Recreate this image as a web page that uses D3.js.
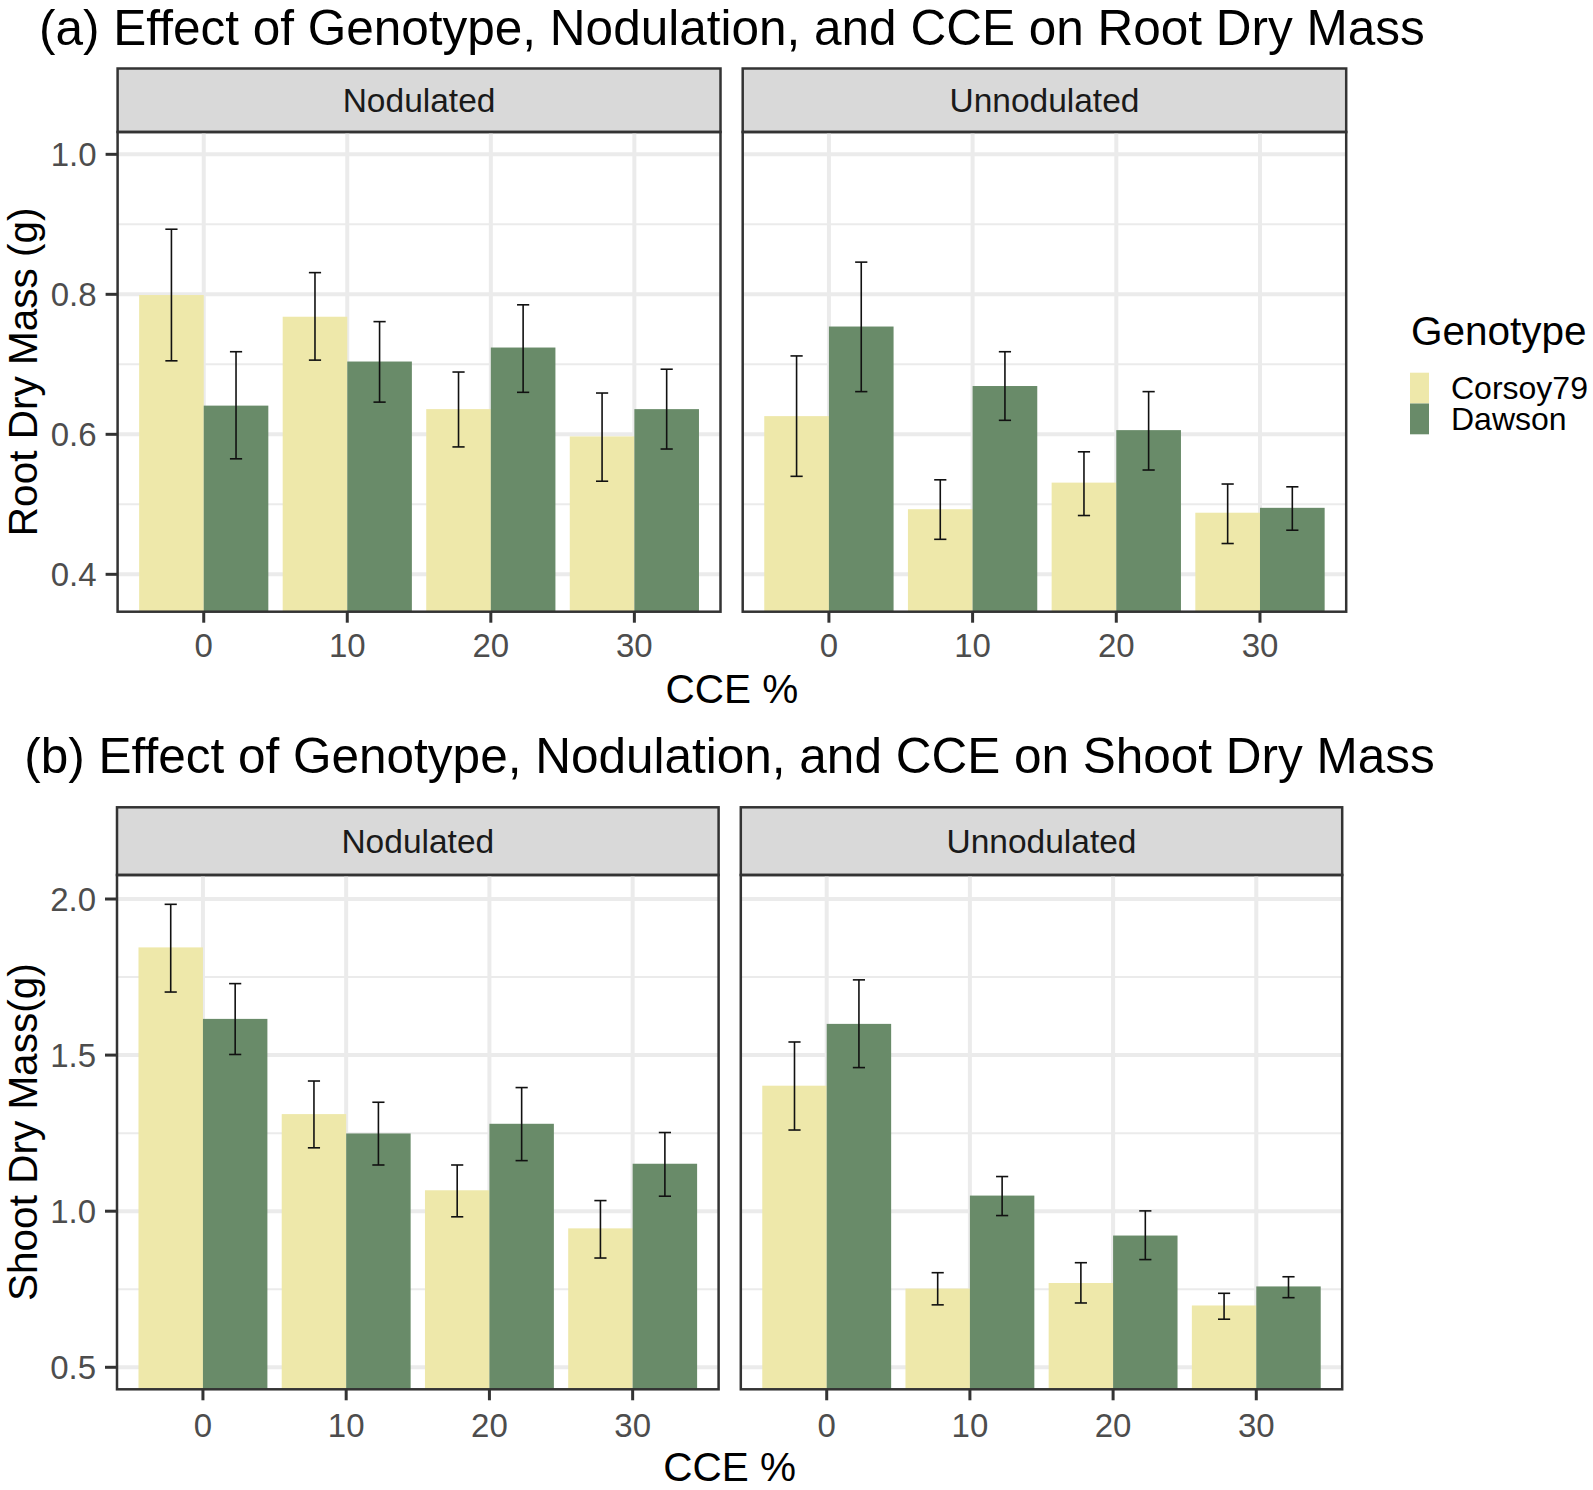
<!DOCTYPE html>
<html>
<head>
<meta charset="utf-8">
<script src="https://cdn.jsdelivr.net/npm/d3@7"></script>
<style>
  html, body { margin: 0; padding: 0; background: #fff; }
  svg { display: block; font-family: Arial, "Liberation Sans", sans-serif; }
</style>
</head>
<body>
<svg id="chart" width="1593" height="1490"></svg>
<script>
'use strict';
// categories
const cceLevels = ['0', '10', '20', '30'];
const genotypes = ['Corsoy79', 'Dawson'];
const nodulation = ['Nodulated', 'Unnodulated'];
const genoColors = ['#EEE8AA', '#698B69'];

// values ordered: nodulation -> CCE -> genotype (Corsoy79, Dawson)
const rootMean = [0.799, 0.641, 0.768, 0.704, 0.636, 0.724, 0.597, 0.636,
                  0.626, 0.754, 0.493, 0.669, 0.531, 0.606, 0.488, 0.495];
const rootLow  = [0.705, 0.565, 0.706, 0.646, 0.582, 0.660, 0.533, 0.579,
                  0.540, 0.661, 0.450, 0.620, 0.484, 0.549, 0.444, 0.463];
const rootHigh = [0.893, 0.718, 0.831, 0.761, 0.689, 0.785, 0.659, 0.693,
                  0.712, 0.846, 0.535, 0.718, 0.575, 0.661, 0.529, 0.525];

const shootMean = [1.845, 1.616, 1.311, 1.249, 1.067, 1.280, 0.945, 1.152,
                   1.402, 1.600, 0.752, 1.050, 0.770, 0.922, 0.698, 0.759];
const shootLow  = [1.702, 1.502, 1.203, 1.148, 0.982, 1.162, 0.850, 1.048,
                   1.260, 1.460, 0.700, 0.986, 0.706, 0.845, 0.654, 0.723];
const shootHigh = [1.983, 1.729, 1.417, 1.349, 1.148, 1.396, 1.034, 1.252,
                   1.542, 1.741, 0.803, 1.111, 0.835, 1.001, 0.737, 0.790];

const rootTicks = [0.4, 0.6, 0.8, 1.0];
const rootMinor = [0.5, 0.7, 0.9];
const shootTicks = [0.5, 1.0, 1.5, 2.0];
const shootMinor = [0.75, 1.25, 1.75];

const svg = d3.select('#chart');
svg.append('rect').attr('width', 1593).attr('height', 1490).attr('fill', '#fff');

function buildRows(mean, low, high) {
  let rows = [];
  let k = 0;
  nodulation.forEach(function(n) {
    cceLevels.forEach(function(c) {
      genotypes.forEach(function(g) {
        rows.push({ nod: n, cce: c, geno: g, mean: mean[k], low: low[k], high: high[k] });
        k++;
      });
    });
  });
  return rows;
}

function drawPlot(cfg) {
  let rows = buildRows(cfg.mean, cfg.low, cfg.high);
  let y = d3.scaleLinear().domain(cfg.yDomain).range([cfg.panelBottom, cfg.panelTop]);
  let g = svg.append('g');

  // title, centered over the panels
  let titleX = (cfg.panels[0][0] + cfg.panels[1][1]) / 2;
  g.append('text')
    .attr('x', titleX).attr('y', cfg.titleY)
    .attr('text-anchor', 'middle')
    .attr('font-size', 49.5).attr('fill', '#000')
    .text(cfg.title);

  cfg.panels.forEach(function(p, pi) {
    // ggplot discrete scale: centres at 1..4, expansion 0.6
    let xc = d3.scaleLinear().domain([0.4, 4.6]).range(p);
    let centre = function(c) { return xc(cceLevels.indexOf(c) + 1); };
    let unit = xc(1) - xc(0);
    let pg = g.append('g');

    // strip
    pg.append('rect')
      .attr('x', p[0]).attr('y', cfg.stripTop)
      .attr('width', p[1] - p[0]).attr('height', cfg.panelTop - cfg.stripTop)
      .attr('fill', '#D9D9D9').attr('stroke', '#333333').attr('stroke-width', 2.5);
    pg.append('text')
      .attr('x', (p[0] + p[1]) / 2).attr('y', (cfg.stripTop + cfg.panelTop) / 2 + 12)
      .attr('text-anchor', 'middle').attr('font-size', 33.5).attr('fill', '#1A1A1A')
      .text(nodulation[pi]);

    // grid
    pg.selectAll('.minor').data(cfg.minor).enter().append('line')
      .attr('x1', p[0]).attr('x2', p[1])
      .attr('y1', d => y(d)).attr('y2', d => y(d))
      .attr('stroke', '#EBEBEB').attr('stroke-width', 2);
    pg.selectAll('.major').data(cfg.ticks).enter().append('line')
      .attr('x1', p[0]).attr('x2', p[1])
      .attr('y1', d => y(d)).attr('y2', d => y(d))
      .attr('stroke', '#EBEBEB').attr('stroke-width', 4);
    pg.selectAll('.vmajor').data(cceLevels).enter().append('line')
      .attr('x1', d => centre(d)).attr('x2', d => centre(d))
      .attr('y1', cfg.panelTop).attr('y2', cfg.panelBottom)
      .attr('stroke', '#EBEBEB').attr('stroke-width', 4);

    // bars
    let sub = rows.filter(function(r) { return r.nod === nodulation[pi]; });
    let barW = 0.45 * unit;
    let barX = function(d) {
      return centre(d.cce) + (genotypes.indexOf(d.geno) === 0 ? -barW : 0);
    };
    pg.selectAll('.bar').data(sub).enter().append('rect')
      .attr('x', barX)
      .attr('y', d => y(d.mean))
      .attr('width', barW)
      .attr('height', d => cfg.panelBottom - y(d.mean))
      .attr('fill', d => genoColors[genotypes.indexOf(d.geno)]);

    // error bars
    let capW = 0.085 * unit;
    let eb = pg.selectAll('.err').data(sub).enter().append('g')
      .attr('stroke', '#111').attr('stroke-width', 1.6);
    eb.append('line')
      .attr('x1', d => barX(d) + barW / 2).attr('x2', d => barX(d) + barW / 2)
      .attr('y1', d => y(d.low)).attr('y2', d => y(d.high));
    eb.append('line')
      .attr('x1', d => barX(d) + barW / 2 - capW / 2).attr('x2', d => barX(d) + barW / 2 + capW / 2)
      .attr('y1', d => y(d.high)).attr('y2', d => y(d.high));
    eb.append('line')
      .attr('x1', d => barX(d) + barW / 2 - capW / 2).attr('x2', d => barX(d) + barW / 2 + capW / 2)
      .attr('y1', d => y(d.low)).attr('y2', d => y(d.low));

    // panel border
    pg.append('rect')
      .attr('x', p[0]).attr('y', cfg.panelTop)
      .attr('width', p[1] - p[0]).attr('height', cfg.panelBottom - cfg.panelTop)
      .attr('fill', 'none').attr('stroke', '#333333').attr('stroke-width', 2.5);

    // x axis ticks + labels
    pg.selectAll('.xt').data(cceLevels).enter().append('line')
      .attr('x1', d => centre(d)).attr('x2', d => centre(d))
      .attr('y1', cfg.panelBottom).attr('y2', cfg.panelBottom + 11)
      .attr('stroke', '#333333').attr('stroke-width', 3);
    pg.selectAll('.xl').data(cceLevels).enter().append('text')
      .attr('x', d => centre(d)).attr('y', cfg.xLabelY)
      .attr('text-anchor', 'middle').attr('font-size', 33).attr('fill', '#4D4D4D')
      .text(d => d);
  });

  // y axis on the first panel
  let x0 = cfg.panels[0][0];
  g.selectAll('.yt').data(cfg.ticks).enter().append('line')
    .attr('x1', x0 - 12).attr('x2', x0)
    .attr('y1', d => y(d)).attr('y2', d => y(d))
    .attr('stroke', '#333333').attr('stroke-width', 3);
  g.selectAll('.yl').data(cfg.ticks).enter().append('text')
    .attr('x', x0 - 21).attr('y', d => y(d) + 12)
    .attr('text-anchor', 'end').attr('font-size', 33).attr('fill', '#4D4D4D')
    .text(d => d3.format('.1f')(d));

  // axis titles
  let yMid = (cfg.panelTop + cfg.panelBottom) / 2;
  g.append('text')
    .attr('transform', 'translate(37,' + yMid + ') rotate(-90)')
    .attr('text-anchor', 'middle').attr('font-size', 40.5).attr('fill', '#000')
    .text(cfg.yTitle);
  g.append('text')
    .attr('x', titleX).attr('y', cfg.xTitleY)
    .attr('text-anchor', 'middle').attr('font-size', 40.5).attr('fill', '#000')
    .text('CCE %');
}

drawPlot({
  title: '(a) Effect of Genotype, Nodulation, and CCE on Root Dry Mass',
  titleY: 45,
  stripTop: 68.5,
  panelTop: 132,
  panelBottom: 611.7,
  panels: [[117.6, 720.5], [742.7, 1346.2]],
  yDomain: [0.3466, 1.0319],
  ticks: rootTicks, minor: rootMinor,
  mean: rootMean, low: rootLow, high: rootHigh,
  yTitle: 'Root Dry Mass (g)',
  xLabelY: 657, xTitleY: 703
});

drawPlot({
  title: '(b) Effect of Genotype, Nodulation, and CCE on Shoot Dry Mass',
  titleY: 772.7,
  stripTop: 807.3,
  panelTop: 875,
  panelBottom: 1389.3,
  panels: [[117, 718.6], [740.8, 1342.2]],
  yDomain: [0.4295, 2.0769],
  ticks: shootTicks, minor: shootMinor,
  mean: shootMean, low: shootLow, high: shootHigh,
  yTitle: 'Shoot Dry Mass(g)',
  xLabelY: 1437, xTitleY: 1481
});

// legend (top plot only)
const legend = svg.append('g');
legend.append('text')
  .attr('x', 1411).attr('y', 345)
  .attr('font-size', 40.5).attr('fill', '#000')
  .text('Genotype');
legend.selectAll('.key').data(genotypes).enter().append('rect')
  .attr('x', 1410).attr('y', (d, i) => 372.7 + i * 30.8)
  .attr('width', 19).attr('height', 30.8)
  .attr('fill', (d, i) => genoColors[i]);
legend.selectAll('.lab').data(genotypes).enter().append('text')
  .attr('x', 1451).attr('y', (d, i) => 399 + i * 31)
  .attr('font-size', 32).attr('fill', '#000')
  .text(d => d);
</script>
</body>
</html>
